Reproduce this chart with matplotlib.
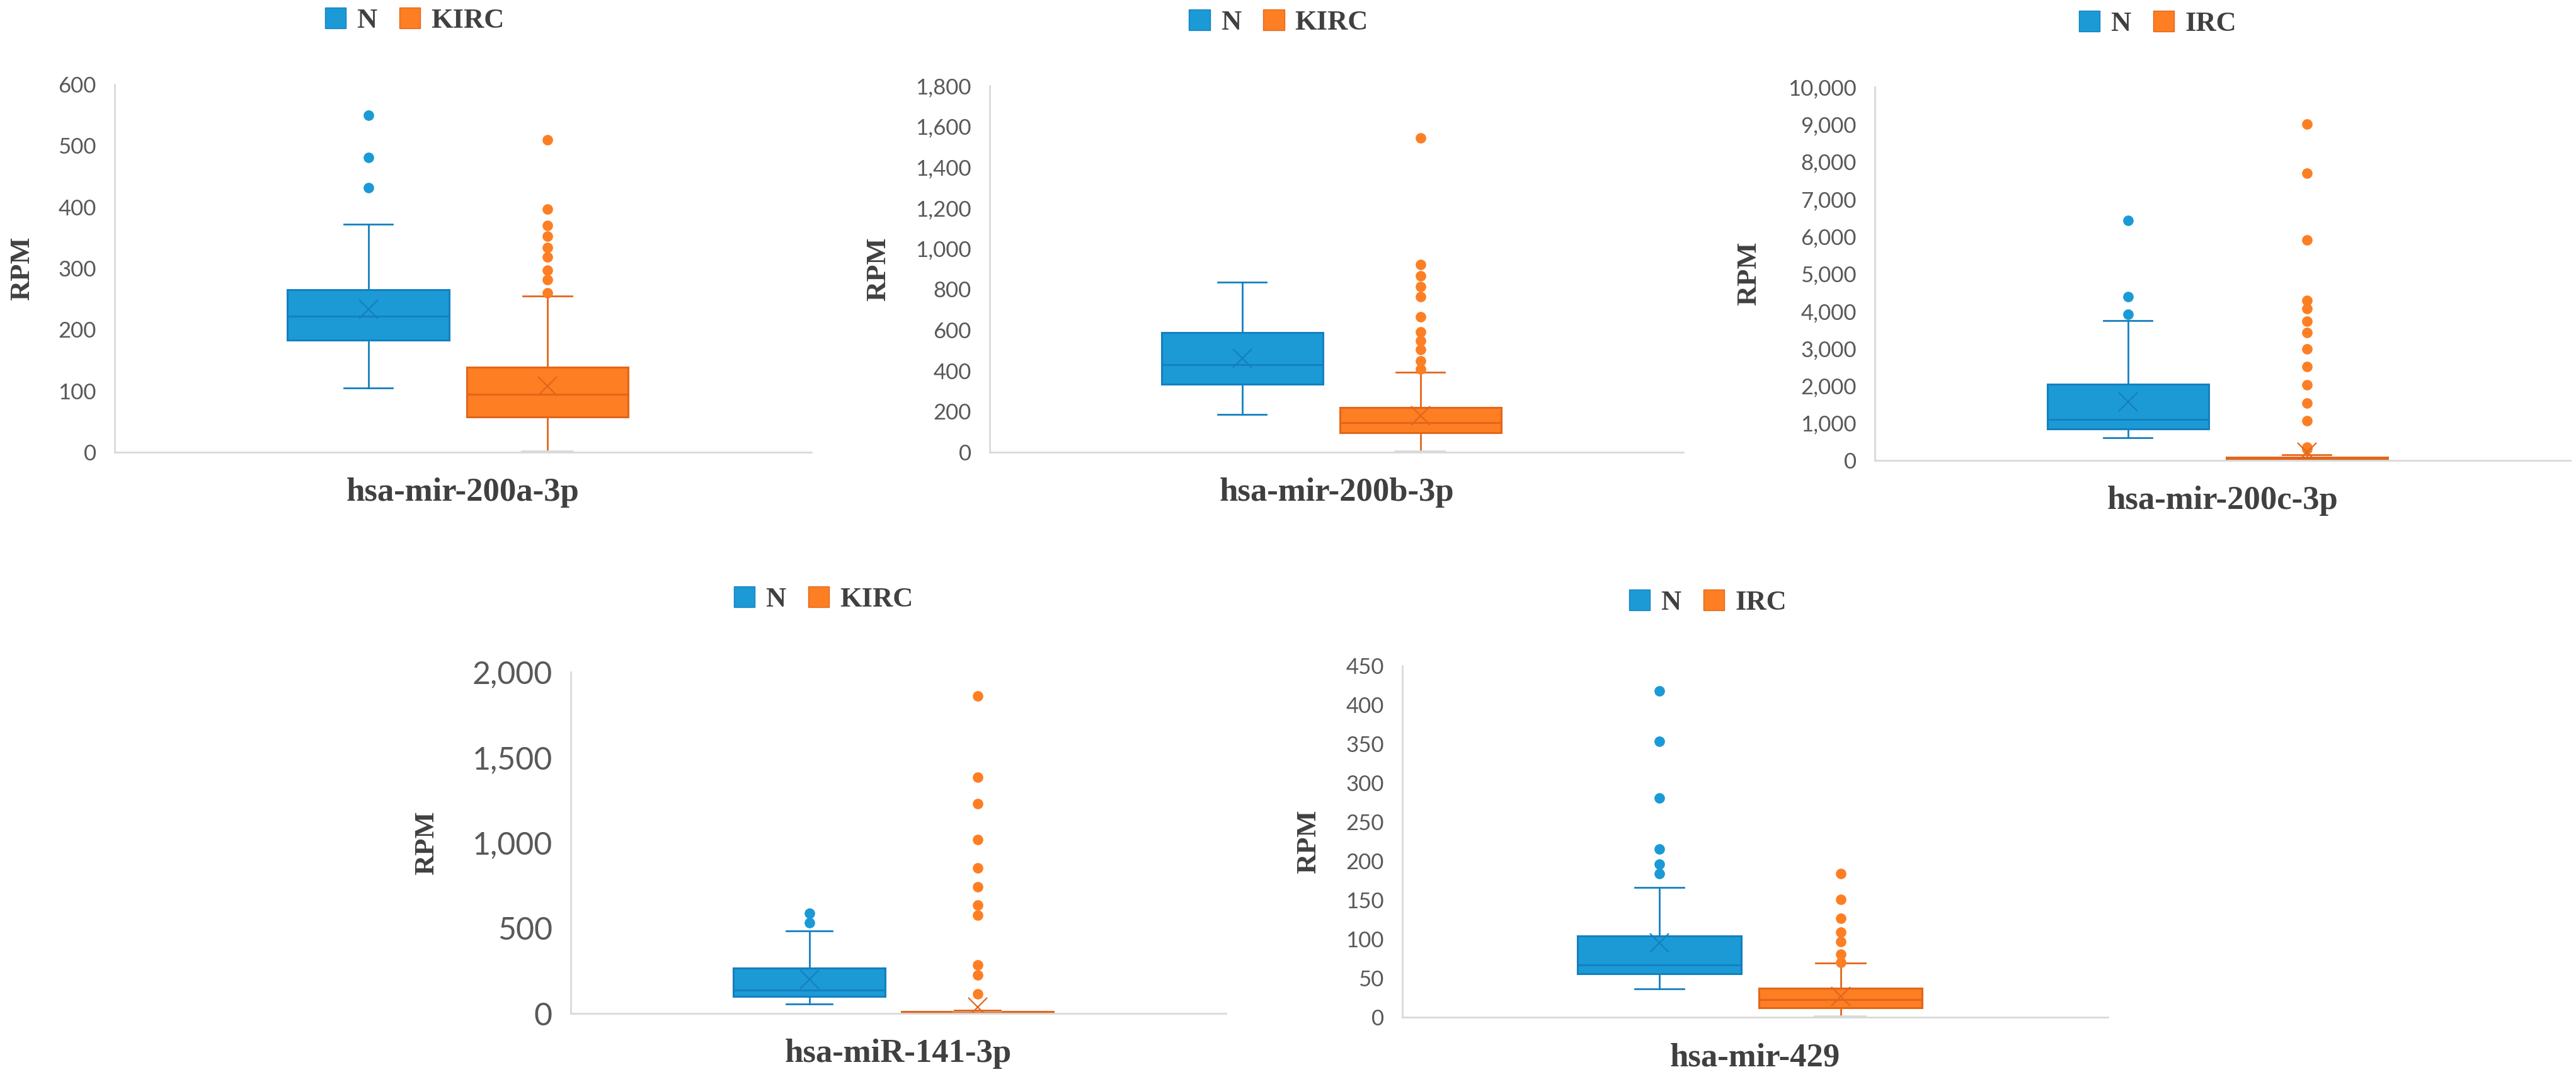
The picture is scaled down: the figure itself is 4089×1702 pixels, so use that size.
import matplotlib
matplotlib.use("Agg")
import matplotlib.pyplot as plt
from matplotlib.patches import Patch
from matplotlib.ticker import FuncFormatter, MultipleLocator

# ---- data: [whislo, q1, median, q3, whishi] ----
names = ["hsa-mir-200a-3p", "hsa-mir-200b-3p", "hsa-mir-200c-3p", "hsa-miR-141-3p", "hsa-mir-429"]
tumor_names = ["KIRC", "KIRC", "IRC", "KIRC", "IRC"]

a_n_box = [105, 183, 222, 265, 372]
a_n_mean = 233
a_n_out = [431, 481, 550]
a_t_box = [0, 58, 95, 139, 255]
a_t_mean = 108
a_t_out = [260, 282, 297, 318, 334, 352, 370, 397, 510]

b_n_box = [186, 333, 431, 587, 836]
b_n_mean = 460
b_n_out = []
b_t_box = [0, 95, 146, 219, 392]
b_t_mean = 179
b_t_out = [408, 449, 503, 547, 590, 666, 764, 812, 867, 923, 1543]

c_n_box = [606, 840, 1100, 2035, 3740]
c_n_mean = 1576
c_n_out = [3913, 4390, 6424]
c_t_box = [0, 26, 43, 87, 150]
c_t_mean = 220
c_t_out = [300, 360, 1060, 1540, 2030, 2510, 2990, 3420, 3720, 4070, 4290, 5910, 7690, 9000]

d_n_box = [57, 100, 136, 265, 483]
d_n_mean = 199
d_n_out = [531, 588]
d_t_box = [0, 0, 4, 11, 20]
d_t_mean = 38
d_t_out = [114, 224, 284, 574, 635, 740, 853, 1018, 1228, 1384, 1858]

e_n_box = [36, 56, 67, 104, 166]
e_n_mean = 95
e_n_out = [184, 196, 215, 281, 353, 418]
e_t_box = [0, 12, 23, 37, 69]
e_t_mean = 27
e_t_out = [70, 81, 97, 109, 127, 151, 184]

y_max = [600, 1800, 10000, 2000, 450]
y_step = [100, 200, 1000, 500, 50]

groups = [
    (a_n_box, a_n_mean, a_n_out, a_t_box, a_t_mean, a_t_out),
    (b_n_box, b_n_mean, b_n_out, b_t_box, b_t_mean, b_t_out),
    (c_n_box, c_n_mean, c_n_out, c_t_box, c_t_mean, c_t_out),
    (d_n_box, d_n_mean, d_n_out, d_t_box, d_t_mean, d_t_out),
    (e_n_box, e_n_mean, e_n_out, e_t_box, e_t_mean, e_t_out),
]

# ---- layout (figure fractions) ----
axes_rect = [
    [0.0445, 0.5781, 0.2705, 0.3432],
    [0.3842, 0.5781, 0.2693, 0.3420],
    [0.7278, 0.5705, 0.2700, 0.3484],
    [0.2216, 0.0546, 0.2543, 0.3185],
    [0.5444, 0.0511, 0.2739, 0.3279],
]
legend_at = [(0.161, 0.981), (0.4964, 0.979), (0.8376, 0.978), (0.3197, 0.441), (0.663, 0.438)]
rpm_x = [-0.133, -0.161, -0.181, -0.22, -0.133]
tick_size = [25, 25, 25, 36, 25]

BLUE, BLUE_D = "#1b9ad6", "#1580bf"
ORANGE, ORANGE_D = "#fd7e23", "#e2661b"
GRID = "#d9d9d9"
TXT = "#595959"

plt.rcParams["font.family"] = ["Lato", "DejaVu Sans"]
SERIF = ["Liberation Serif", "DejaVu Serif"]

fig = plt.figure(figsize=(40.89, 17.02), dpi=100)


def stats_of(box, mean, out):
    lo, q1, med, q3, hi = box
    return dict(whislo=lo, q1=q1, med=med, q3=q3, whishi=hi, mean=mean, fliers=out)


for i, (nb, nm, no, tb, tm, to) in enumerate(groups):
    ax = fig.add_axes(axes_rect[i])
    for j, (st, fc, ec) in enumerate([(stats_of(nb, nm, no), BLUE, BLUE_D),
                                      (stats_of(tb, tm, to), ORANGE, ORANGE_D)]):
        res = ax.bxp([st], positions=[[0.364, 0.621][j]], widths=0.232, capwidths=0.07,
                     patch_artist=True, showmeans=True, manage_ticks=False,
                     boxprops=dict(facecolor=fc, edgecolor=ec, linewidth=2.2),
                     medianprops=dict(color=ec, linewidth=2.2),
                     whiskerprops=dict(color=ec, linewidth=2),
                     capprops=dict(color=ec, linewidth=2),
                     meanprops=dict(marker="x", markersize=22, markeredgecolor=ec,
                                    markeredgewidth=1.6),
                     flierprops=dict(marker="o", markersize=11, markerfacecolor=fc,
                                     markeredgecolor=fc))
        if st["whislo"] == 0:
            res["caps"][0].set_color(GRID)
            res["caps"][0].set_linewidth(4)
    ax.set_xlim(0, 1)
    ax.set_ylim(0, y_max[i])
    ax.yaxis.set_major_locator(MultipleLocator(y_step[i]))
    ax.yaxis.set_major_formatter(FuncFormatter(lambda v, p: f"{v:,.0f}"))
    ax.set_xticks([])
    ax.tick_params(axis="y", length=0, pad=21, labelsize=tick_size[i], labelcolor=TXT)
    for s in ["top", "right"]:
        ax.spines[s].set_visible(False)
    for s in ["left", "bottom"]:
        ax.spines[s].set_color(GRID)
        ax.spines[s].set_linewidth(2)
    ax.set_xlabel(names[i], fontsize=38, family=SERIF, fontweight="bold", color="#404040",
                  labelpad=29)
    ax.text(rpm_x[i], 0.5, "RPM", transform=ax.transAxes, rotation=90, ha="center",
            va="center", fontsize=32, family=SERIF, fontweight="bold", color="#404040")
    handles = [Patch(facecolor=BLUE, edgecolor=BLUE_D), Patch(facecolor=ORANGE, edgecolor=ORANGE_D)]
    ax.legend(handles, ["N", tumor_names[i]], loc="center", ncol=2, frameon=False,
              bbox_to_anchor=legend_at[i], bbox_transform=fig.transFigure,
              prop=dict(family=SERIF, weight="bold", size=32), labelcolor="#404040",
              handlelength=0.75, handleheight=0.75, handletextpad=0.38, columnspacing=0.8)

fig.savefig("out.png", dpi=100)
